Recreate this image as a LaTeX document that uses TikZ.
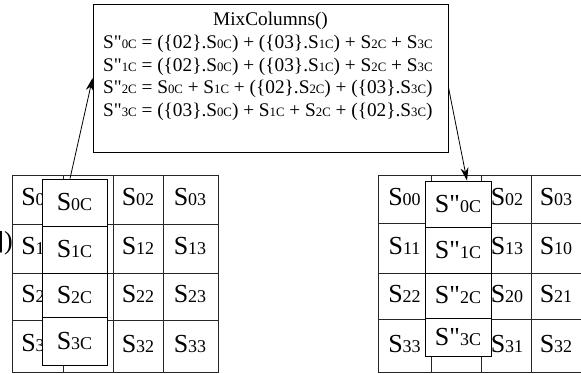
\documentclass[tikz,border=0pt]{standalone}
\usepackage{fontspec}
\setmainfont{Liberation Serif}
\usetikzlibrary{arrows.meta}
\newcommand\Sg[1]{S{\fontsize{18}{18}\selectfont #1}}
\newcommand\Sm[1]{S{\fontsize{12.8}{12}\selectfont #1}}
\newcommand\Sq[1]{S\textquotedbl{\fontsize{18}{18}\selectfont #1}}
\newcommand\Smq[1]{S\textquotedbl{\fontsize{12.8}{12}\selectfont #1}}
\begin{document}
\begin{tikzpicture}[x=1pt,y=-1pt,
  gridline/.style={line width=0.8pt,draw=black!85},
  celltxt/.style={font=\fontsize{26}{26}\selectfont,inner sep=0pt},
  ovcell/.style={draw=black,line width=0.8pt,fill=white,minimum width=65pt,inner sep=0pt,font=\fontsize{26}{26}\selectfont},
  eqtxt/.style={font=\fontsize{19.3}{20}\selectfont,inner sep=0pt,anchor=base west},
  arr/.style={line width=0.8pt,-{Stealth[length=13pt,width=8pt]}}]
\useasboundingbox (0,0) rectangle (581,373);
% ---------- left grid ----------
\draw[gridline] (12,175) rectangle (218,372);
\foreach \x in {63,113,163} \draw[gridline] (\x,175) -- (\x,372);
\foreach \y in {224,273,320} \draw[gridline] (12,\y) -- (218,\y);
\node[celltxt] (a00) at (37.5,197) {\Sg{00}};
\node[celltxt] (a10) at (37.5,246) {\Sg{10}};
\node[celltxt] (a20) at (37.5,294) {\Sg{20}};
\node[celltxt] (a30) at (37.5,343) {\Sg{30}};
\node[celltxt] (a02) at (138,197) {\Sg{02}};
\node[celltxt] (a03) at (190,197) {\Sg{03}};
\node[celltxt] (a12) at (138,246) {\Sg{12}};
\node[celltxt] (a13) at (190,246) {\Sg{13}};
\node[celltxt] (a22) at (138,294) {\Sg{22}};
\node[celltxt] (a23) at (190,294) {\Sg{23}};
\node[celltxt] (a32) at (138,344) {\Sg{32}};
\node[celltxt] (a33) at (190,344) {\Sg{33}};
\node[celltxt,anchor=east] (frag) at (13,243) {])};
% left overlay column
\node[ovcell,minimum height=47pt] (lo0) at (74.5,202.5) {\Sg{0C}};
\node[ovcell,minimum height=47pt] (lo1) at (74.5,249.5) {\Sg{1C}};
\node[ovcell,minimum height=44pt] (lo2) at (74.5,295) {\Sg{2C}};
\node[ovcell,minimum height=48pt] (lo3) at (74.5,341) {\Sg{3C}};
% ---------- right grid ----------
\draw[gridline] (581,175) -- (378,175) -- (378,372) -- (581,372);
\foreach \x in {431,481,531} \draw[gridline] (\x,175) -- (\x,372);
\foreach \y in {223,273,319} \draw[gridline] (378,\y) -- (581,\y);
\node[celltxt] (b00) at (404.5,197) {\Sg{00}};
\node[celltxt] (b11) at (404.5,246) {\Sg{11}};
\node[celltxt] (b22) at (404.5,294) {\Sg{22}};
\node[celltxt] (b33) at (404.5,344) {\Sg{33}};
\node[celltxt] (b02) at (507,197) {\Sg{02}};
\node[celltxt] (b13) at (507,246) {\Sg{13}};
\node[celltxt] (b20) at (507,294) {\Sg{20}};
\node[celltxt] (b31) at (507,344) {\Sg{31}};
\node[celltxt] (b03) at (556,197) {\Sg{03}};
\node[celltxt] (b10) at (556,246) {\Sg{10}};
\node[celltxt] (b21) at (556,294) {\Sg{21}};
\node[celltxt] (b32) at (556,344) {\Sg{32}};
% right overlay column
\node[ovcell,minimum width=66pt,minimum height=46pt] (ro0) at (458,204) {\Sq{0C}};
\node[ovcell,minimum width=66pt,minimum height=46pt] (ro1) at (458,250) {\Sq{1C}};
\node[ovcell,minimum width=66pt,minimum height=45pt] (ro2) at (458,295.5) {\Sq{2C}};
\node[ovcell,minimum width=66pt,minimum height=38pt] (ro3) at (458,337) {\Sq{3C}};
% ---------- MixColumns box ----------
\node[draw=black,line width=0.8pt,fill=white,minimum width=355pt,minimum height=148pt,inner sep=0pt] (mix) at (270.5,78) {};
\node[eqtxt,anchor=base] (title) at (270.5,25.5) {MixColumns()};
\node[eqtxt] (e0) at (103,48.5) {\Smq{0C} = (\{02\}.\Sm{0C}) + (\{03\}.\Sm{1C}) + \Sm{2C} + \Sm{3C}};
\node[eqtxt] (e1) at (103,71) {\Smq{1C} = (\{02\}.\Sm{0C}) + (\{03\}.\Sm{1C}) + \Sm{2C} + \Sm{3C}};
\node[eqtxt] (e2) at (103,93.5) {\Smq{2C} = \Sm{0C} + \Sm{1C} + (\{02\}.\Sm{2C}) + (\{03\}.\Sm{3C})};
\node[eqtxt] (e3) at (103,116) {\Smq{3C} = (\{03\}.\Sm{0C}) + \Sm{1C} + \Sm{2C} + (\{02\}.\Sm{3C})};
% ---------- arrows ----------
\draw[arr] ([xshift=-4.5pt]lo0.north) -- (mix.west);
\draw[arr] ([yshift=-9pt]mix.east) -- ([xshift=9pt]ro0.north);
\end{tikzpicture}
\end{document}
